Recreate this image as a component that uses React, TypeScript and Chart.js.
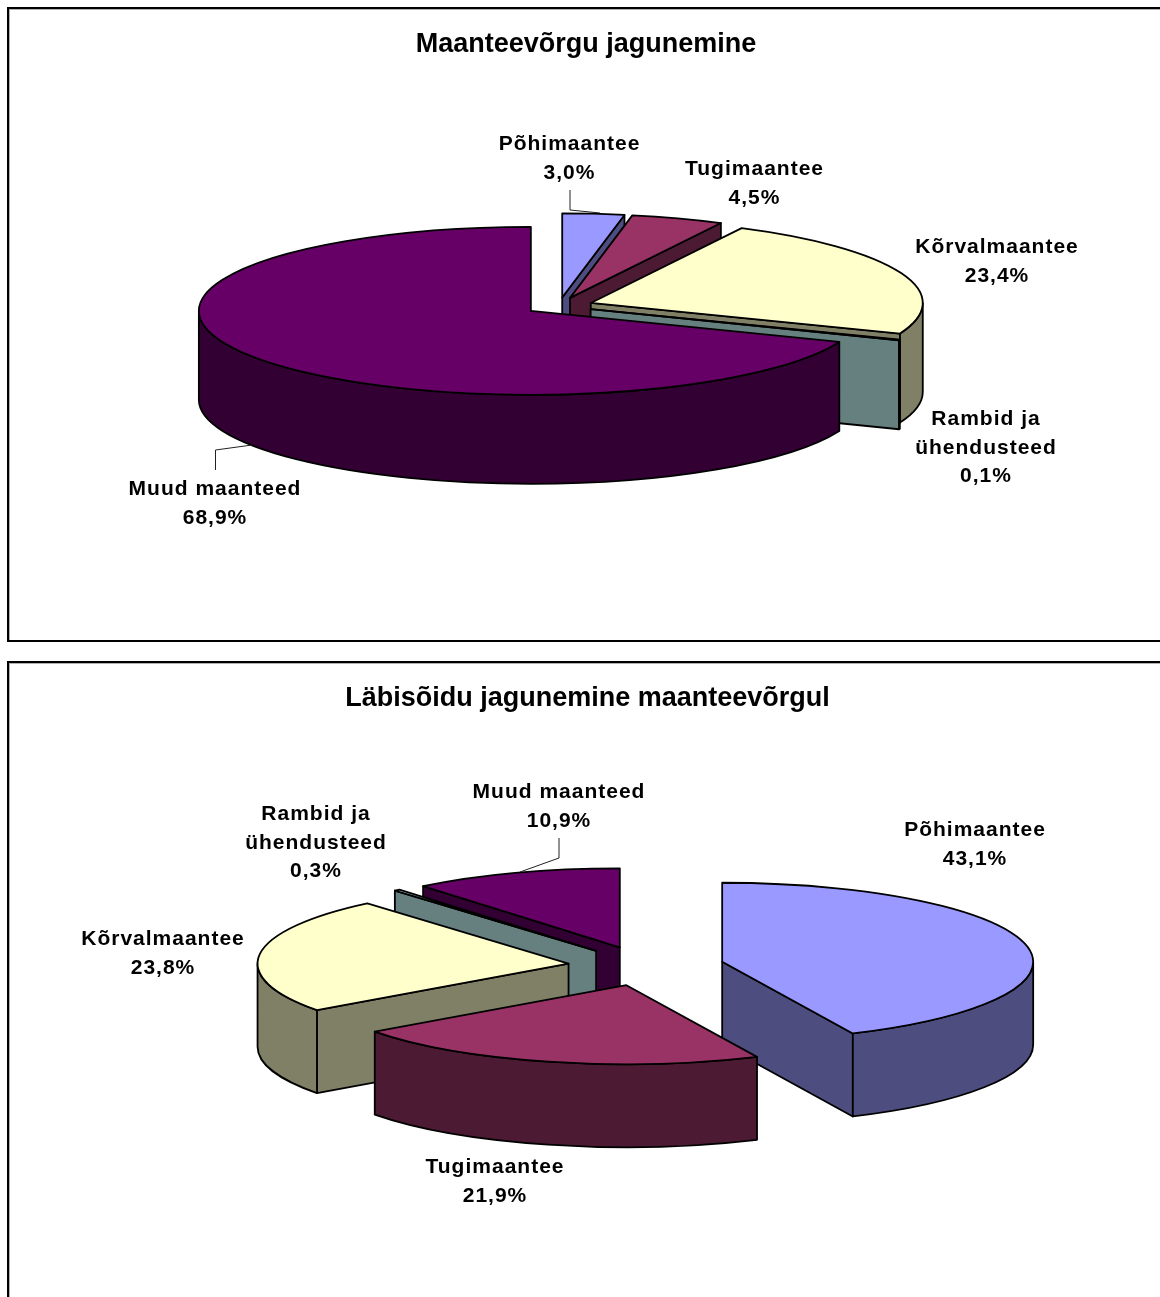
import React, { useEffect, useRef } from "react";
import { Chart, registerables } from "chart.js";

Chart.register(...registerables);

// ---- data ----
const categoriesNetwork = ["Põhimaantee", "Tugimaantee", "Kõrvalmaantee", "Rambid ja ühendusteed", "Muud maanteed"];
const valuesNetwork = [3.0, 4.5, 23.4, 0.1, 68.9];
const valuesTraffic = [43.1, 21.9, 23.8, 0.3, 10.9];
const titleNetwork = "Maanteevõrgu jagunemine";
const titleTraffic = "Läbisõidu jagunemine maanteevõrgul";

// ---- styles ----
const topColors = ["#9999FF", "#993366", "#FFFFCC", "#CCFFFF", "#660066"];
const sideColors = ["#4D4D80", "#4D1A33", "#808066", "#668080", "#330033"];
const labelLines = [["Põhimaantee"], ["Tugimaantee"], ["Kõrvalmaantee"], ["Rambid ja", "ühendusteed"], ["Muud maanteed"]];

// ---- layout (canvas pixels) ----
const layoutNetwork = {
  top: 0, width: 1172, height: 650, titlePad: 28,
  cx: 559, cy: 306, radius: 332, tilt: 0.253, depth: 89, explode: 34,
  labels: [[569.5, 144], [754.5, 169], [997, 247], [986, 419], [215, 489]],
  leaders: [[[570, 190], [570, 210], [600, 213]], null, null, null, [[215.5, 470], [215.5, 450], [252, 445]]],
};
const layoutTraffic = {
  top: 650, width: 1175, height: 647, titlePad: 32,
  cx: 646, cy: 316, radius: 311, tilt: 0.254, depth: 83, explode: 78,
  labels: [[975, 180], [495, 517], [163, 289], [316, 164], [559, 142]],
  leaders: [null, null, null, null, [[559, 188], [559, 208], [520, 222]]],
};

const pie3d = (layout: any) => ({
  id: "pie3d",
  beforeDatasetsDraw(chart: any) {
    const ctx = chart.ctx;
    const arcs = chart.getDatasetMeta(0).data;
    const off = layout.explode;
    const R = layout.radius;
    const Ry = R * layout.tilt;
    const items = arcs.map((arc: any, i: number) => {
      const mid = (arc.startAngle + arc.endAngle) / 2;
      return {
        arc, i,
        ax: layout.cx + Math.cos(mid) * off,
        ay: layout.cy + Math.sin(mid) * off * layout.tilt,
      };
    });
    items.sort((p: any, q: any) => p.ay - q.ay);
    ctx.save();
    ctx.lineWidth = 1.8;
    ctx.strokeStyle = "#000";
    ctx.lineJoin = "round";
    for (const { arc, i, ax, ay } of items) {
      const a = arc.startAngle;
      const b = arc.endAngle;
      const d = layout.depth;
      ctx.fillStyle = sideColors[i];
      // radial walls: only those that face the viewer
      const walls = [Math.cos(a) < -1e-6 ? a : null, Math.cos(b) > 1e-6 ? b : null];
      for (const t of walls) {
        if (t === null) continue;
        const ex = ax + Math.cos(t) * R;
        const ey = ay + Math.sin(t) * Ry;
        ctx.beginPath();
        ctx.moveTo(ax, ay);
        ctx.lineTo(ex, ey);
        ctx.lineTo(ex, ey + d);
        ctx.lineTo(ax, ay + d);
        ctx.closePath();
        ctx.fill();
        ctx.stroke();
      }
      // outer wall: only the part of the rim that faces the viewer
      for (const n of [-1, 0, 1]) {
        const s = Math.max(a, n * 2 * Math.PI);
        const e = Math.min(b, n * 2 * Math.PI + Math.PI);
        if (e <= s) continue;
        ctx.beginPath();
        ctx.ellipse(ax, ay, R, Ry, 0, s, e);
        ctx.ellipse(ax, ay + d, R, Ry, 0, e, s, true);
        ctx.closePath();
        ctx.fill();
        ctx.stroke();
      }
      // top face: the library's own arc, moved out and squashed about its apex
      ctx.save();
      ctx.translate(ax, ay);
      ctx.scale(1, layout.tilt);
      ctx.translate(-arc.x, -arc.y);
      arc.draw(ctx, chart.chartArea);
      ctx.restore();
      ctx.beginPath();
      ctx.moveTo(ax, ay);
      ctx.ellipse(ax, ay, R, Ry, 0, a, b);
      ctx.closePath();
      ctx.stroke();
    }
    ctx.restore();
    return false;
  },
  afterDraw(chart: any) {
    const ctx = chart.ctx;
    const values = chart.data.datasets[0].data;
    ctx.save();
    ctx.fillStyle = "#000";
    ctx.textAlign = "center";
    ctx.textBaseline = "middle";
    ctx.font = 'bold 21px "Liberation Sans"';
    (ctx as any).letterSpacing = "1px";
    values.forEach((v: number, i: number) => {
      const [x, y] = layout.labels[i];
      const lines = [...labelLines[i], v.toFixed(1).replace(".", ",") + "%"];
      lines.forEach((line, k) => ctx.fillText(line, x, y + k * 28.8));
      const leader = layout.leaders[i];
      if (leader) {
        ctx.beginPath();
        leader.forEach(([lx, ly]: number[], k: number) => (k ? ctx.lineTo(lx, ly) : ctx.moveTo(lx, ly)));
        ctx.lineWidth = 1;
        ctx.strokeStyle = "#222";
        ctx.stroke();
      }
    });
    ctx.restore();
  },
});

function PieCanvas({ layout, title, values }: any) {
  const ref = useRef<HTMLCanvasElement>(null);
  useEffect(() => {
    const chart = new Chart(ref.current as HTMLCanvasElement, {
      type: "pie",
      data: {
        labels: categoriesNetwork,
        datasets: [{
          data: values,
          backgroundColor: topColors,
          borderWidth: 0,
        }],
      },
      options: {
        responsive: false,
        animation: false,
        events: [],
        radius: layout.radius,
        plugins: {
          legend: { display: false },
          tooltip: { enabled: false },
          title: {
            display: true,
            text: title,
            color: "#000",
            font: { family: '"Liberation Sans"', size: 27, weight: "bold" },
            padding: { top: layout.titlePad, bottom: 0 },
          },
        },
      } as any,
      plugins: [pie3d(layout)],
    });
    return () => chart.destroy();
  }, [layout, title, values]);
  return (
    <canvas
      ref={ref}
      width={layout.width}
      height={layout.height}
      style={{ position: "absolute", left: 0, top: layout.top, width: layout.width, height: layout.height }}
    />
  );
}

const frame = (top: number, height: number): React.CSSProperties => ({
  position: "absolute",
  left: 7,
  top,
  width: 1300,
  height,
  border: "2px solid #000",
  boxShadow: "inset 1px 1px 0 #b0b0b0",
  boxSizing: "border-box",
});

export default function App() {
  return (
    <div style={{ position: "absolute", left: 0, top: 0, width: 1160, height: 1297, overflow: "hidden", background: "#fff" }}>
      <div style={frame(7, 635)} />
      <div style={frame(661, 800)} />
      <PieCanvas layout={layoutNetwork} title={titleNetwork} values={valuesNetwork} />
      <PieCanvas layout={layoutTraffic} title={titleTraffic} values={valuesTraffic} />
    </div>
  );
}
